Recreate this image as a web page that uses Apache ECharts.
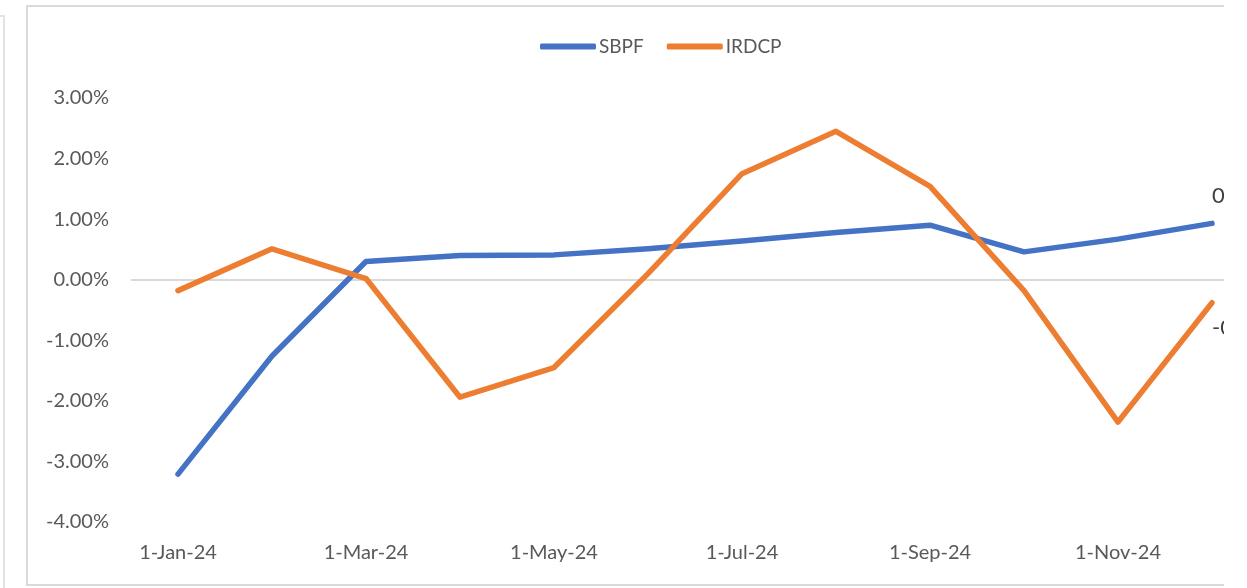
<!DOCTYPE html>
<html>
<head>
<meta charset="utf-8">
<script src="https://cdn.jsdelivr.net/npm/echarts@6/dist/echarts.min.js"></script>
<style>
  html, body { margin: 0; padding: 0; background: #fff; width: 1247px; height: 588px; overflow: hidden; }
  #frag { position: absolute; left: -3px; top: 15px; width: 6px; height: 600px; border-top: 2px solid #e3e3e3; border-right: 2px solid #e3e3e3; }
  #wrap { position: absolute; left: 26px; top: 5px; width: 1198px; height: 581px; box-sizing: border-box;
          border-top: 2px solid #d9d9d9; border-left: 2px solid #d9d9d9; border-bottom: 2px solid #d9d9d9; overflow: hidden; }
  #chart { position: absolute; left: -28px; top: -7px; width: 1320px; height: 588px; }
</style>
</head>
<body>
<div id="frag"></div>
<div id="wrap"><div id="chart"></div></div>
<script>
const categories = ['1-Jan-24','1-Feb-24','1-Mar-24','1-Apr-24','1-May-24','1-Jun-24','1-Jul-24','1-Aug-24','1-Sep-24','1-Oct-24','1-Nov-24','1-Dec-24'];
const sbpf  = [-3.21, -1.26, 0.30, 0.40, 0.41, 0.51, 0.64, 0.78, 0.90, 0.46, 0.67, 0.93];
const irdcp = [-0.18, 0.51, 0.02, -1.94, -1.45, 0.10, 1.75, 2.45, 1.54, -0.18, -2.35, -0.38];
const yTicks = { min: -4, max: 3, interval: 1 };

const chart = echarts.init(document.getElementById('chart'), null, { renderer: 'canvas' });
const font = 'Lato';
chart.setOption({
  animation: false,
  backgroundColor: 'transparent',
  textStyle: { fontFamily: font },
  legend: {
    left: 535, top: 32,
    icon: 'roundRect',
    itemWidth: 56, itemHeight: 6, itemGap: 23,
    textStyle: { fontFamily: font, fontSize: 19, color: '#595959', padding: [0, 0, 0, -2] },
    data: ['SBPF', 'IRDCP']
  },
  grid: { left: 131, right: 61, top: 98, bottom: 66, containLabel: false },
  xAxis: {
    type: 'category',
    data: categories,
    boundaryGap: true,
    axisLine: { show: false, onZero: false },
    axisTick: { show: false },
    splitLine: { show: false },
    axisLabel: { interval: 1, fontFamily: font, fontSize: 20, color: '#595959', margin: 21 }
  },
  yAxis: {
    type: 'value',
    min: yTicks.min, max: yTicks.max, interval: yTicks.interval,
    axisLine: { show: false },
    axisTick: { show: false },
    splitLine: { show: false },
    axisLabel: { fontFamily: font, fontSize: 20, color: '#595959', margin: 22, formatter: v => v.toFixed(2) + '%' }
  },
  series: [
    {
      name: 'SBPF', type: 'line', data: sbpf,
      showSymbol: false, symbol: 'none',
      color: '#4472C4',
      lineStyle: { width: 5.5, color: '#4472C4', cap: 'round', join: 'round' },
      z: 3,
      markLine: {
        silent: true, symbol: 'none', animation: false,
        label: { show: false },
        lineStyle: { color: '#d9d9d9', width: 2, type: 'solid' },
        data: [{ yAxis: 0 }],
        z: 1
      },
      endLabel: {
        show: true, distance: 0, offset: [0, -27],
        fontFamily: font, fontSize: 22, color: '#404040',
        formatter: p => Number(p.value).toFixed(2) + '%'
      }
    },
    {
      name: 'IRDCP', type: 'line', data: irdcp,
      showSymbol: false, symbol: 'none',
      color: '#ED7D31',
      lineStyle: { width: 5.5, color: '#ED7D31', cap: 'round', join: 'round' },
      z: 4,
      endLabel: {
        show: true, distance: 0, offset: [0, 25],
        fontFamily: font, fontSize: 22, color: '#404040',
        formatter: p => Number(p.value).toFixed(2) + '%'
      }
    }
  ]
});
</script>
</body>
</html>
